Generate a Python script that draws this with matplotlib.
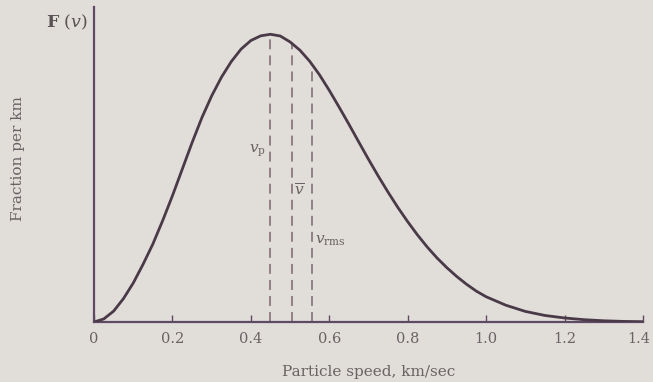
import numpy as np
import matplotlib
matplotlib.use("Agg")
import matplotlib.pyplot as plt
from matplotlib.transforms import ScaledTranslation

plt.rcParams["mathtext.fontset"] = "dejavuserif"

# Speed distribution (km/sec, fraction per km/sec)
speed = [0.0, 0.025, 0.05, 0.075, 0.1, 0.125, 0.15, 0.175, 0.2, 0.225, 0.25,
         0.275, 0.3, 0.325, 0.35, 0.375, 0.4, 0.425, 0.45, 0.475, 0.5, 0.525,
         0.55, 0.575, 0.6, 0.625, 0.65, 0.675, 0.7, 0.725, 0.75, 0.775, 0.8,
         0.825, 0.85, 0.875, 0.9, 0.925, 0.95, 0.975, 1.0, 1.05, 1.1, 1.15,
         1.2, 1.25, 1.3, 1.35, 1.4]
fraction = [0.0, 0.02, 0.07, 0.15, 0.25, 0.37, 0.50, 0.65, 0.81, 0.98, 1.15,
            1.31, 1.45, 1.57, 1.67, 1.75, 1.805, 1.835, 1.845, 1.834, 1.796,
            1.743, 1.672, 1.585, 1.485, 1.378, 1.268, 1.155, 1.043, 0.935,
            0.832, 0.734, 0.643, 0.558, 0.48, 0.41, 0.348, 0.292, 0.242, 0.198,
            0.162, 0.108, 0.068, 0.042, 0.026, 0.015, 0.008, 0.004, 0.002]

# Characteristic speeds: most probable, mean, root-mean-square
char_speeds = [0.45, 0.505, 0.555]
char_labels = [r"$v_{\rm p}$", r"$\overline{v}$", r"$v_{\rm rms}$"]
label_pos = [(0.437, 1.10, "right"), (0.51, 0.84, "left"), (0.563, 0.52, "left")]

xticks = [0, 0.2, 0.4, 0.6, 0.8, 1.0, 1.2, 1.4]
xticklabels = ["0", "0.2", "0.4", "0.6", "0.8", "1.0", "1.2", "1.4"]

bg = "#e1deda"
ink = "#4a3a48"
axis_col = "#5e4a62"
text_col = "#6a6264"
dash_col = "#7a6670"

fig = plt.figure(figsize=(6.53, 3.82), dpi=100, facecolor=bg)
ax = fig.add_axes([0.144, 0.157, 0.8407, 0.8247], facecolor=bg)

ax.plot(speed, fraction, color=ink, lw=2.0, solid_capstyle="round",
        solid_joinstyle="round", zorder=3)

for s in char_speeds:
    top = np.interp(s, speed, fraction)
    ax.plot([s, s], [0, top], color=dash_col, lw=1.1,
            dashes=(6.5, 4), zorder=2)

for lab, (x, y, ha) in zip(char_labels, label_pos):
    ax.text(x, y, lab, color=text_col, fontsize=11, ha=ha, va="center",
            family="DejaVu Serif")

ax.set_xlim(0, 1.4)
ax.set_ylim(0, 2.02)
ax.set_xticks(xticks)
ax.set_xticklabels(xticklabels, family="DejaVu Serif", fontsize=10.5,
                   color=text_col)
ax.set_yticks([])
ax.tick_params(axis="x", direction="in", length=5, width=1.0,
               color=axis_col, pad=7)
# keep the last tick label inside the figure edge
last = ax.get_xticklabels()[-1]
last.set_transform(last.get_transform()
                   + ScaledTranslation(-3 / 72, 0, fig.dpi_scale_trans))

for side in ("top", "right"):
    ax.spines[side].set_visible(False)
for side in ("left", "bottom"):
    ax.spines[side].set_color(axis_col)
    ax.spines[side].set_linewidth(1.6)

ax.set_xlabel("Particle speed, km/sec", family="DejaVu Serif", fontsize=11,
              color=text_col, labelpad=14)
fig.text(0.028, 0.585, "Fraction per km", rotation=90, ha="center",
         va="center", family="DejaVu Serif", fontsize=11, color=text_col)
fig.text(0.134, 0.942, r"$\mathbf{F}\ (v)$", ha="right", va="center",
         fontsize=12.5, color="#5a5254")

fig.savefig("out.png", dpi=100, facecolor=bg)
